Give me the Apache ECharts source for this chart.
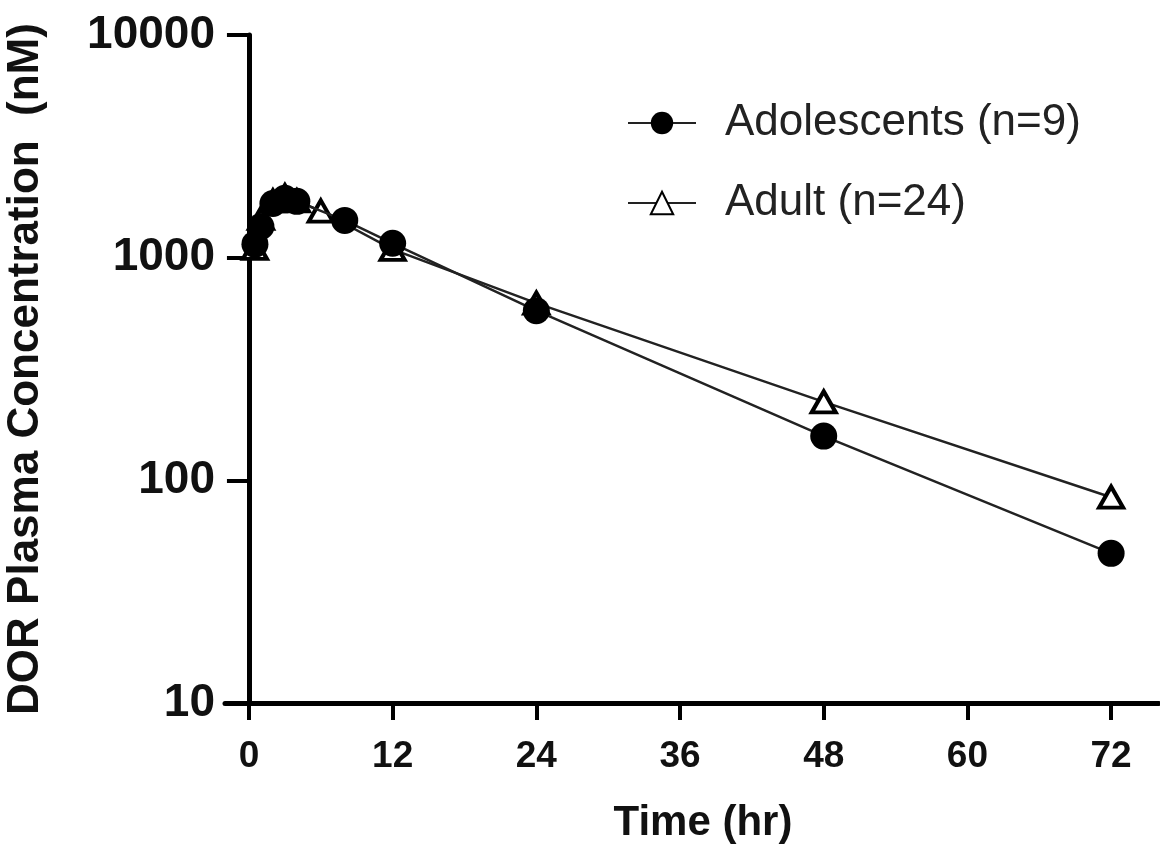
<!DOCTYPE html>
<html>
<head>
<meta charset="utf-8">
<script src="https://cdn.jsdelivr.net/npm/echarts@6/dist/echarts.min.js"></script>
<style>
  html, body { margin: 0; padding: 0; background: #fff; }
  #chart { width: 1160px; height: 852px; }
</style>
</head>
<body>
<div id="chart"></div>
<script>
// sampling times (hr) and mean concentrations (nM)
const adolTime = [0.5, 1, 2, 3, 4, 8, 12, 24, 48, 72]
const adolConc = [1150, 1380, 1750, 1850, 1790, 1470, 1160, 578, 158, 47]
const adultTime = [0.5, 1, 2, 3, 4, 6, 12, 24, 48, 72]
const adultConc = [1100, 1500, 1800, 1900, 1800, 1620, 1090, 625, 225, 84]
const xTicks = [0, 12, 24, 36, 48, 60, 72]

const pairs = (xs, ys) => xs.map((x, i) => [x, ys[i]])

const chart = echarts.init(document.getElementById('chart'))
const option = {
  animation: false,
  grid: { left: 225, right: 1, top: 35, bottom: 149, containLabel: false, outerBoundsMode: 'none' },
  legend: {
    orient: 'vertical',
    left: 622,
    top: 96,
    itemWidth: 68,
    itemHeight: 28,
    itemGap: 36,
    data: ['Adolescents (n=9)', 'Adult (n=24)'],
    textStyle: { fontSize: 44, color: '#222', fontFamily: 'Liberation Sans, Arial', padding: [0, 0, 0, 24] }
  },
  xAxis: {
    type: 'value',
    min: -2,
    max: 76,
    name: 'Time (hr)',
    nameLocation: 'middle',
    nameGap: 99,
    nameTextStyle: { fontSize: 42, fontWeight: 'bold', color: '#111', fontFamily: 'Liberation Sans, Arial', padding: [0, 0, 0, 22] },
    axisLine: { onZero: false, lineStyle: { color: '#000', width: 5 } },
    axisTick: { customValues: xTicks, length: 17, lineStyle: { color: '#000', width: 4 } },
    axisLabel: { customValues: xTicks, margin: 35, fontSize: 37, fontWeight: 'bold', color: '#111', fontFamily: 'Liberation Sans, Arial' },
    splitLine: { show: false }
  },
  yAxis: {
    type: 'log',
    logBase: 10,
    min: 10,
    max: 10000,
    name: 'DOR Plasma Concentration  (nM)',
    nameLocation: 'middle',
    nameGap: 177,
    nameTextStyle: { fontSize: 44, fontWeight: 'bold', color: '#111', fontFamily: 'Liberation Sans, Arial' },
    axisLine: { show: true, onZero: true, lineStyle: { color: '#000', width: 5 } },
    axisTick: { show: true, length: 22, lineStyle: { color: '#000', width: 4 } },
    minorTick: { show: false },
    axisLabel: {
      margin: 10, fontSize: 46, fontWeight: 'bold', color: '#111', fontFamily: 'Liberation Sans, Arial',
      formatter: v => String(Math.round(v))
    },
    splitLine: { show: false }
  },
  series: [
    {
      name: 'Adult (n=24)',
      type: 'line',
      z: 2,
      data: pairs(adultTime, adultConc),
      symbol: 'triangle',
      symbolSize: [24, 21],
      lineStyle: { color: '#222', width: 2.5 },
      itemStyle: { color: '#fff', borderColor: '#000', borderWidth: 4 }
    },
    {
      name: 'Adolescents (n=9)',
      type: 'line',
      z: 3,
      data: pairs(adolTime, adolConc),
      symbol: 'circle',
      symbolSize: 27,
      lineStyle: { color: '#222', width: 2.5 },
      itemStyle: { color: '#000', borderColor: '#000', borderWidth: 0 }
    }
  ]
}
chart.setOption(option)
</script>
</body>
</html>
